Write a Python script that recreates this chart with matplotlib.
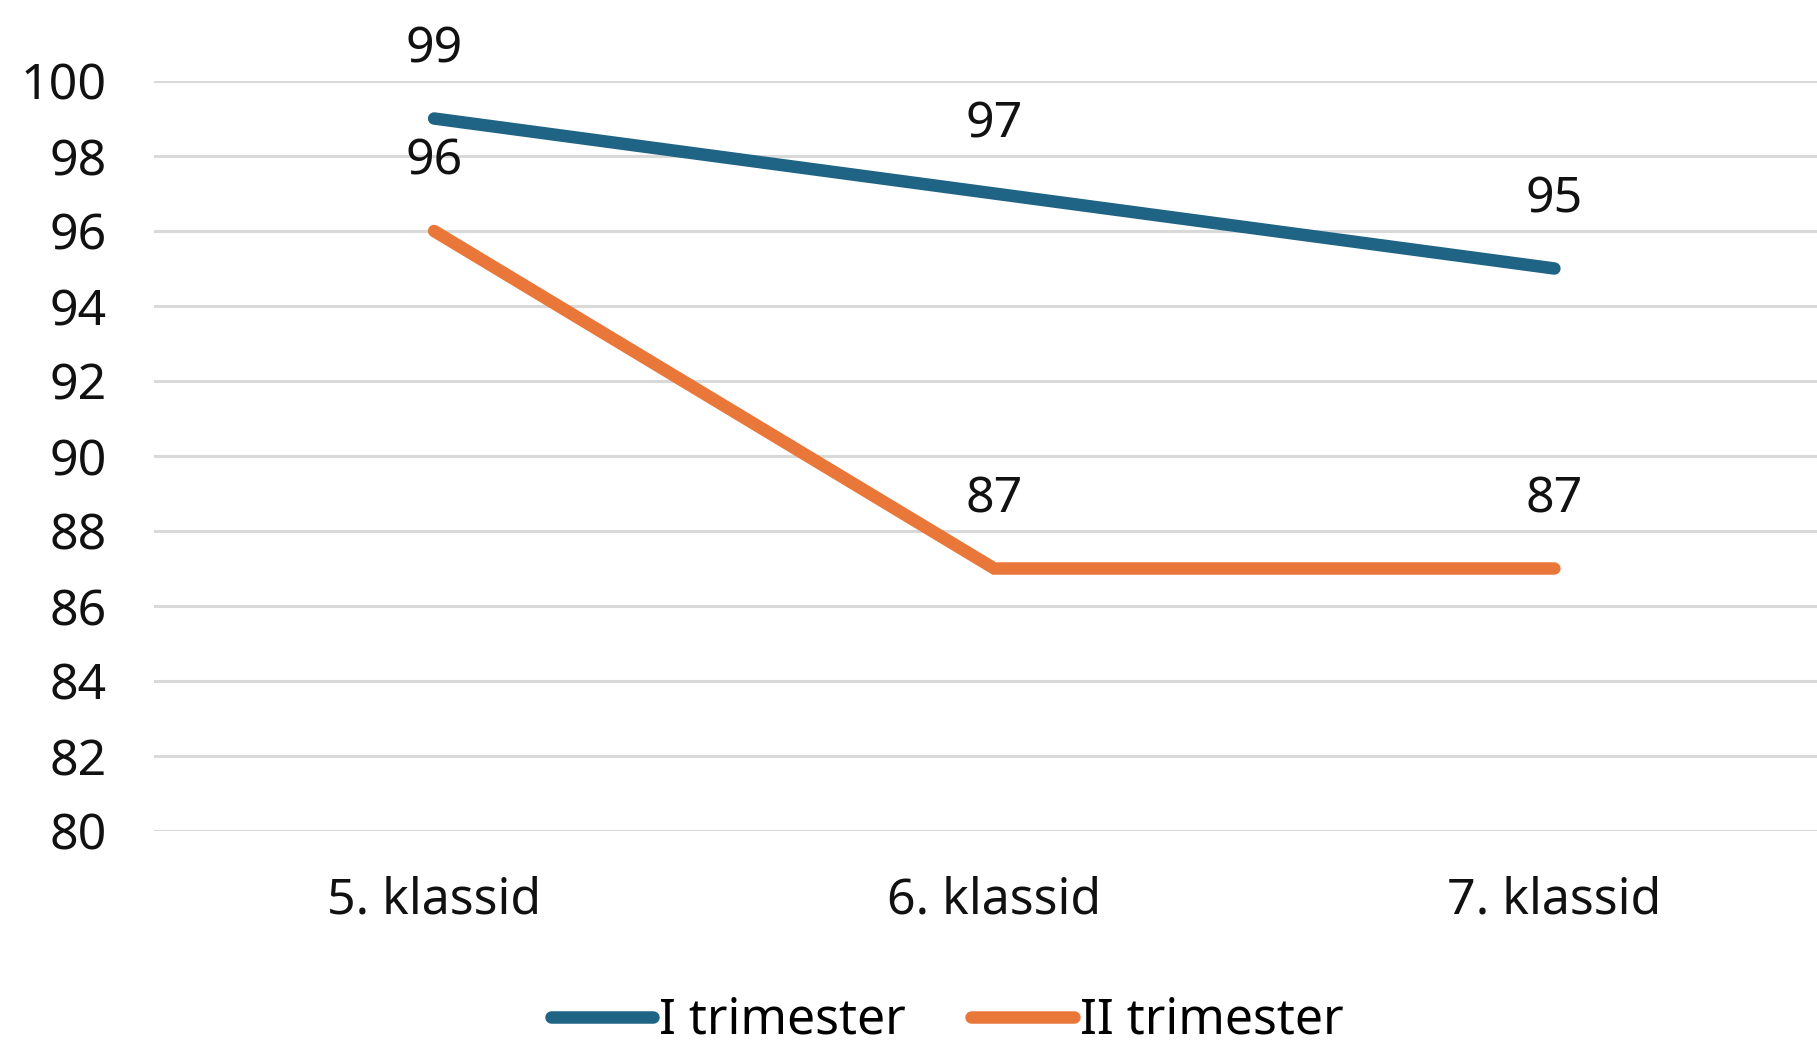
import matplotlib
matplotlib.use("Agg")
import matplotlib.pyplot as plt

categories = ["5. klassid", "6. klassid", "7. klassid"]
series_names = ["I trimester", "II trimester"]
trim1 = [99, 97, 95]
trim2 = [96, 87, 87]
yticks = list(range(80, 101, 2))

colors = ["#1F6485", "#E9773A"]

plt.rcParams['font.family'] = ['Noto Sans', 'DejaVu Sans']

W, H = 1817, 1046
fig = plt.figure(figsize=(W/100, H/100), dpi=100)
ax = fig.add_axes([154/W, 1-831/H, (1834.5-154)/W, (831-81)/H])

x = list(range(len(categories)))
for vals, c, name in zip([trim1, trim2], colors, series_names):
    ax.plot(x, vals, color=c, lw=9, solid_capstyle='round', solid_joinstyle='miter',
            label=name, zorder=3)
    for xi, v in zip(x, vals):
        ax.annotate(str(v), (xi, v), xytext=(0, 50), textcoords='offset points',
                    ha='center', va='center', fontsize=36, color='#111111', zorder=4)

ax.set_xlim(-0.5, 2.5)
ax.set_ylim(80, 100)
ax.set_yticks(yticks)
ax.set_yticklabels([str(t) for t in yticks])
ax.set_xticks(x)
ax.set_xticklabels(categories)
ax.tick_params(axis='both', length=0, labelsize=36, colors='#111111')
ax.tick_params(axis='y', pad=34)
ax.tick_params(axis='x', pad=32)
ax.grid(axis='y', color='#D9D9D9', lw=2.2)
ax.set_axisbelow(True)
for s in ax.spines.values():
    s.set_visible(False)

fig.legend(loc='center', bbox_to_anchor=(947/W, 1-1021/H), ncol=2, frameon=False,
           fontsize=36, handlelength=2.05, handletextpad=0.12, columnspacing=1.3)

fig.savefig("out.png", dpi=100, facecolor='white')
